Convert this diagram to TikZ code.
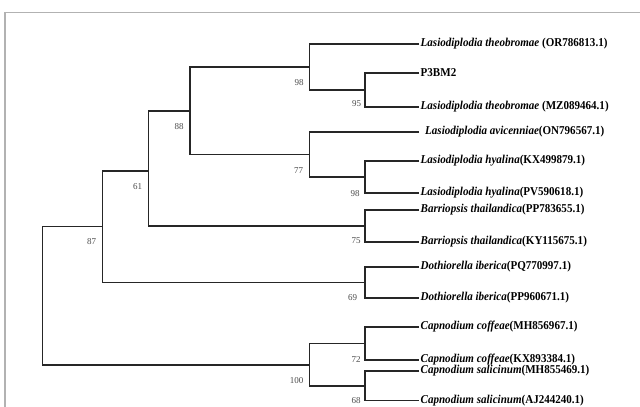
\documentclass[tikz,border=0pt]{standalone}
\usepackage{fontspec}
\setmainfont{Liberation Serif}
\newfontfamily\leaffont[FakeStretch=0.92]{Liberation Serif}
\begin{document}
\begin{tikzpicture}[x=1pt,y=-1pt,
  branch/.style={line width=1.2pt,draw=black!85,line join=miter},
  leaf/.style={anchor=west,inner xsep=1.5pt,inner ysep=0pt,font=\fontsize{12}{14}\leaffont\bfseries},
  boot/.style={inner sep=0pt,text=black!70,font=\fontsize{9}{10}\selectfont},
  frame/.style={line width=1.5pt,draw=black!30}]
\clip (0,0) rectangle (640,407);
\fill[white] (0,0) rectangle (640,407);
% frame
\draw[frame] (640,12.5) -| (5,407);
% leaves
\node[leaf] (t1) at (419,44) {\textit{Lasiodiplodia theobromae} (OR786813.1)};
\node[leaf] (t2) at (419,73) {P3BM2};
\node[leaf] (t3) at (419,107) {\textit{Lasiodiplodia theobromae} (MZ089464.1)};
\node[leaf,inner xsep=6pt] (t4) at (419,132) {\textit{Lasiodiplodia avicenniae}(ON796567.1)};
\node[leaf] (t5) at (419,161) {\textit{Lasiodiplodia hyalina}(KX499879.1)};
\node[leaf] (t6) at (419,193) {\textit{Lasiodiplodia hyalina}(PV590618.1)};
\node[leaf] (t7) at (419,210) {\textit{Barriopsis thailandica}(PP783655.1)};
\node[leaf] (t8) at (419,242) {\textit{Barriopsis thailandica}(KY115675.1)};
\node[leaf] (t9) at (419,267) {\textit{Dothiorella iberica}(PQ770997.1)};
\node[leaf] (t10) at (419,298) {\textit{Dothiorella iberica}(PP960671.1)};
\node[leaf] (t11) at (419,327) {\textit{Capnodium coffeae}(MH856967.1)};
\node[leaf] (t12) at (419,360) {\textit{Capnodium coffeae}(KX893384.1)};
\node[leaf] (t13) at (419,371) {\textit{Capnodium salicinum}(MH855469.1)};
\node[leaf] (t14) at (419,400.5) {\textit{Capnodium salicinum}(AJ244240.1)};
% internal nodes
\coordinate (n95) at (365,90);
\coordinate (n98a) at (309.5,67);
\coordinate (n98b) at (365,177);
\coordinate (n77) at (309.5,154.5);
\coordinate (n88) at (190,111);
\coordinate (n75) at (365,226);
\coordinate (n61) at (148.3,171);
\coordinate (n69) at (365,282.5);
\coordinate (n87) at (102.3,226.7);
\coordinate (n72) at (365,343.5);
\coordinate (n68) at (365,386);
\coordinate (n100) at (309.5,365);
\coordinate (root) at (42.7,296);
% branches
\draw[branch] (t2.west) -| (n95) |- (t3.west);
\draw[branch] (t1.west) -| (n98a) |- (n95);
\draw[branch] (t5.west) -| (n98b) |- (t6.west);
\draw[branch] (t4.west) -| (n77) |- (n98b);
\draw[branch] (n98a) -| (n88) |- (n77);
\draw[branch] (t7.west) -| (n75) |- (t8.west);
\draw[branch] (n88) -| (n61) |- (n75);
\draw[branch] (t9.west) -| (n69) |- (t10.west);
\draw[branch] (n61) -| (n87) |- (n69);
\draw[branch] (t11.west) -| (n72) |- (t12.west);
\draw[branch] (t13.west) -| (n68) |- (t14.west);
\draw[branch] (n72) -| (n100) |- (n68);
\draw[branch] (n87) -| (root) |- (n100);
% bootstrap values
\node[boot] (b98a) at (299,83) {98};
\node[boot] (b95) at (356.5,104) {95};
\node[boot] (b88) at (179,126.7) {88};
\node[boot] (b77) at (298.5,170.5) {77};
\node[boot] (b61) at (137.7,186.7) {61};
\node[boot] (b98b) at (355,193.3) {98};
\node[boot] (b75) at (356,240.7) {75};
\node[boot] (b87) at (91.7,242) {87};
\node[boot] (b69) at (352.7,297.3) {69};
\node[boot] (b72) at (356,360) {72};
\node[boot] (b100) at (296.5,380.5) {100};
\node[boot] (b68) at (356,400.5) {68};
\end{tikzpicture}
\end{document}
